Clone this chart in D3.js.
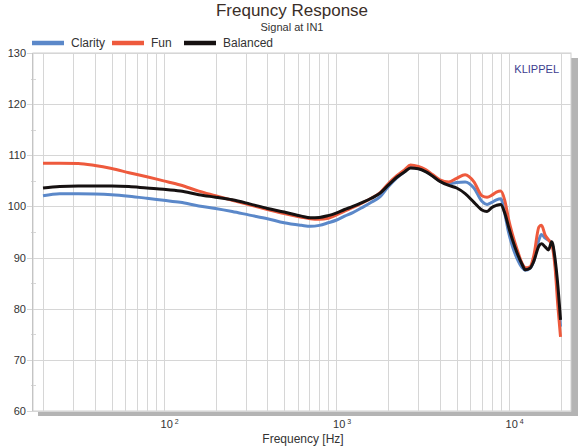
<!DOCTYPE html>
<html>
<head>
<meta charset="utf-8">
<script src="https://cdn.jsdelivr.net/npm/d3@7"></script>
<style>
  body { margin: 0; background: #fff; }
  text { font-family: "Liberation Sans", Arial, sans-serif; }
</style>
</head>
<body>
<div id="chart"></div>
<script>
// Chart size and plot box
const width = 584, height = 448;
const plot = { left: 33, right: 571, top: 53, bottom: 411 };

// Data (Hz / dB)
const freqs = [20, 25, 32, 40, 50, 63, 80, 100, 125, 160, 200, 250, 315, 400, 500, 630, 710, 800, 900, 1000,
  1120, 1250, 1400, 1600, 1800, 2000, 2250, 2500, 2700, 3000, 3300, 3600, 4000, 4500, 5000, 5600, 6300, 7000,
  7500, 8000, 8500, 9000, 9500, 10000, 10500, 11200, 12000, 12500, 13300, 14000, 15000, 15500, 16300, 17000,
  17800, 18600, 19300, 20000];

const clarity = [102.1, 102.5, 102.5, 102.45, 102.3, 102.0, 101.6, 101.2, 100.8, 100.1, 99.6, 99.0, 98.3, 97.6, 96.8, 96.3, 96.1, 96.3, 96.8, 97.3,
  98.1, 98.8, 99.7, 100.8, 101.9, 103.8, 105.6, 106.8, 107.6, 107.4, 106.9, 106.1, 105.0, 104.4, 104.7, 104.8, 103.6, 101.0,
  100.4, 100.8, 101.3, 101.5, 98.6, 94.9, 92.3, 89.8, 88.0, 87.5, 87.9, 89.3, 93.5, 94.5, 93.8, 93.4,
  92.8, 89.0, 82.5, 76.5];

const fun = [108.45, 108.45, 108.4, 108.0, 107.4, 106.6, 105.8, 105.0, 104.2, 103.0, 102.1, 101.2, 100.3, 99.4, 98.6, 97.9, 97.6, 97.5, 97.7, 98.3,
  99.1, 99.8, 100.6, 101.6, 102.7, 104.4, 106.0, 107.2, 108.1, 107.8, 107.2, 106.3, 105.2, 104.8, 105.5, 106.2, 104.8, 102.1,
  101.8, 102.2, 102.8, 103.0, 101.2, 97.5, 94.7, 91.6, 88.8, 88.0, 88.2, 90.4, 96.0, 96.3, 94.4, 93.5,
  92.5, 88.0, 80.5, 74.5];

const balanced = [103.6, 103.9, 104.0, 104.0, 104.0, 103.9, 103.6, 103.35, 103.0, 102.3, 101.8, 101.3, 100.5, 99.6, 98.9, 98.1, 97.8, 97.85, 98.2, 98.7,
  99.4, 100.0, 100.7, 101.6, 102.6, 104.1, 105.7, 106.8, 107.5, 107.35, 106.8, 106.0, 104.9, 104.1, 103.6, 102.5, 100.8, 99.3,
  99.0, 99.8, 100.2, 100.4, 98.7, 96.0, 93.6, 90.9, 88.6, 87.6, 87.9, 89.3, 92.3, 92.7, 92.1, 91.5,
  93.1, 89.7, 84.5, 77.8];

const yTicks = [60, 70, 80, 90, 100, 110, 120, 130];
const yMinorTicks = [65, 75, 85, 95, 105, 115, 125];
const decades = [{ value: 100, exp: "2" }, { value: 1000, exp: "3" }, { value: 10000, exp: "4" }];

const series = [
  { name: "Clarity", values: clarity, color: "#5b88c9" },
  { name: "Fun", values: fun, color: "#ee5a3d" },
  { name: "Balanced", values: balanced, color: "#161111" }
];

const svg = d3.select("#chart").append("svg")
  .attr("width", width)
  .attr("height", height);

// Scales
const x = d3.scaleLog().domain([17.5, 23000]).range([plot.left, plot.right]);
const y = d3.scaleLinear().domain([60, 130]).range([plot.bottom, plot.top]);

// Title
svg.append("text")
  .attr("x", 292).attr("y", 16)
  .attr("text-anchor", "middle")
  .attr("font-size", 17)
  .attr("fill", "#3a2e28")
  .text("Frequncy Response");

svg.append("text")
  .attr("x", 292).attr("y", 31)
  .attr("text-anchor", "middle")
  .attr("font-size", 11)
  .attr("fill", "#333")
  .text("Signal at IN1");

// Legend
const legendPos = [32, 112, 184];
series.forEach((s, i) => {
  const lx = legendPos[i];
  svg.append("line")
    .attr("x1", lx).attr("x2", lx + 32)
    .attr("y1", 43).attr("y2", 43)
    .attr("stroke", s.color)
    .attr("stroke-width", 4.5);
  svg.append("text")
    .attr("x", lx + 39).attr("y", 47)
    .attr("font-size", 12)
    .attr("fill", "#333")
    .text(s.name);
});

// Plot shadow and background
svg.append("rect")
  .attr("x", plot.left + 5).attr("y", plot.top + 5)
  .attr("width", plot.right - plot.left + 2).attr("height", plot.bottom - plot.top)
  .attr("fill", "#b4b4b4");

svg.append("rect")
  .attr("x", plot.left).attr("y", plot.top)
  .attr("width", plot.right - plot.left).attr("height", plot.bottom - plot.top)
  .attr("fill", "#fff")
  .attr("stroke", "#cfcfcf");

// Grid
const grid = svg.append("g").attr("stroke", "#d6d6d6").attr("stroke-width", 1);

grid.selectAll(".vgrid")
  .data(x.ticks())
  .enter().append("line")
  .attr("x1", d => Math.round(x(d)) + 0.5).attr("x2", d => Math.round(x(d)) + 0.5)
  .attr("y1", plot.top).attr("y2", plot.bottom);

grid.selectAll(".hgrid")
  .data(yTicks)
  .enter().append("line")
  .attr("x1", plot.left - 6).attr("x2", plot.right)
  .attr("y1", d => Math.round(y(d)) + 0.5).attr("y2", d => Math.round(y(d)) + 0.5);

grid.selectAll(".minor")
  .data(yMinorTicks)
  .enter().append("line")
  .attr("x1", plot.left - 2).attr("x2", plot.left + 3)
  .attr("y1", d => Math.round(y(d)) + 0.5).attr("y2", d => Math.round(y(d)) + 0.5);

// Left axis line
svg.append("line")
  .attr("x1", plot.left - 0.5).attr("x2", plot.left - 0.5)
  .attr("y1", plot.top).attr("y2", plot.bottom)
  .attr("stroke", "#c4c4c4");

// Y tick labels
svg.selectAll(".ylabel")
  .data(yTicks)
  .enter().append("text")
  .attr("x", 26)
  .attr("y", d => y(d) + 4)
  .attr("text-anchor", "end")
  .attr("font-size", 11)
  .attr("fill", "#333")
  .text(d => d);

// X tick labels (10^n)
const xl = svg.selectAll(".xlabel")
  .data(decades)
  .enter().append("text")
  .attr("x", d => x(d.value) - 3)
  .attr("y", 428)
  .attr("font-size", 11)
  .attr("fill", "#333");
xl.append("tspan").text("10");
xl.append("tspan")
  .attr("dx", 2).attr("dy", -4)
  .attr("font-size", 7)
  .text(d => d.exp);

svg.append("text")
  .attr("x", 303).attr("y", 443)
  .attr("text-anchor", "middle")
  .attr("font-size", 12)
  .attr("fill", "#333")
  .text("Frequency [Hz]");

svg.append("text")
  .attr("x", 559).attr("y", 73)
  .attr("text-anchor", "end")
  .attr("font-size", 11)
  .attr("fill", "#3d3d8f")
  .text("KLIPPEL");

// Curves
const line = d3.line()
  .x(d => x(d[0]))
  .y(d => y(d[1]))
  .curve(d3.curveMonotoneX);

svg.append("g").selectAll(".curve")
  .data(series)
  .enter().append("path")
  .attr("class", "curve")
  .attr("fill", "none")
  .attr("stroke", d => d.color)
  .attr("stroke-width", 3)
  .attr("stroke-linejoin", "round")
  .attr("d", d => line(freqs.map((f, i) => [f, d.values[i]])));
</script>
</body>
</html>
